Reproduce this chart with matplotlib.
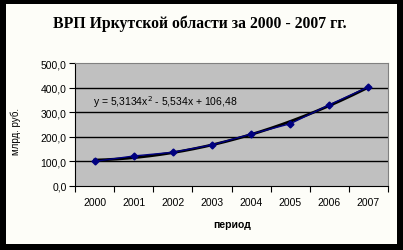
import matplotlib.pyplot as plt
import numpy as np
from matplotlib.patches import Rectangle

# данные
years = ['2000', '2001', '2002', '2003', '2004', '2005', '2006', '2007']
vrp = [100, 122, 137, 167, 211, 253, 330, 403]
yticks = [0, 100, 200, 300, 400, 500]

fig = plt.figure(figsize=(4.03, 2.51), dpi=100, facecolor='black')
fig.patches.append(Rectangle((6/403, 6/251), 391/403, 240/251, transform=fig.transFigure,
                             facecolor='#fdfdf8', edgecolor='none', zorder=-5))

ax = fig.add_axes([75/403, 64/251, 313/403, 123/251])
ax.set_facecolor('#c0c0c0')

x = np.arange(len(years))
# линия тренда (полином 2-й степени, как в Excel)
coef = np.polyfit(x + 1, vrp, 2)
xs = np.linspace(1, len(years), 200)
ax.plot(xs - 1, np.polyval(coef, xs), color='black', lw=2, zorder=3)
ax.plot(x, vrp, color='#000080', lw=1, marker='D', ms=3.5, zorder=4)

for v in yticks[1:-1]:
    ax.axhline(v, color='black', lw=1, zorder=1)

ax.set_xlim(-0.5, len(years) - 0.5)
ax.set_ylim(0, 500)
ax.set_yticks(yticks)
ax.set_yticklabels([('%.1f' % v).replace('.', ',') for v in yticks],
                   fontsize=7.5, family='Liberation Sans')
ax.set_xticks(np.arange(len(years) + 1) - 0.5)
ax.set_xticklabels([])
ax.set_xticks(x, minor=True)
ax.set_xticklabels(years, minor=True, fontsize=7.5, family='Liberation Sans')
ax.tick_params(axis='x', which='major', direction='out', length=4, color='black')
ax.tick_params(axis='x', which='minor', length=0, pad=8)
ax.tick_params(axis='y', direction='out', length=4, pad=2)

for s in ['top', 'right']:
    ax.spines[s].set_color('#808080')
ax.spines['left'].set_color('black')
ax.spines['bottom'].set_color('black')

ax.text(0.058, 0.69, 'y = 5,3134x$^2$ - 5,534x + 106,48', transform=ax.transAxes,
        fontsize=7.5, family='Liberation Sans', va='center', zorder=5)

fig.text(0.497, 0.904, 'ВРП Иркутской области за 2000 - 2007 гг.', ha='center', va='center',
         fontsize=11.3, fontweight='bold', family='Liberation Serif')
fig.text(0.577, 0.104, 'период', ha='center', va='center', fontsize=7.5,
         fontweight='bold', family='Liberation Sans')
fig.text(16/403, 0.478, 'млрд. руб.', ha='center', va='center', rotation=90,
         fontsize=7, family='Liberation Sans')

fig.savefig('out.png', dpi=100, facecolor=fig.get_facecolor())
